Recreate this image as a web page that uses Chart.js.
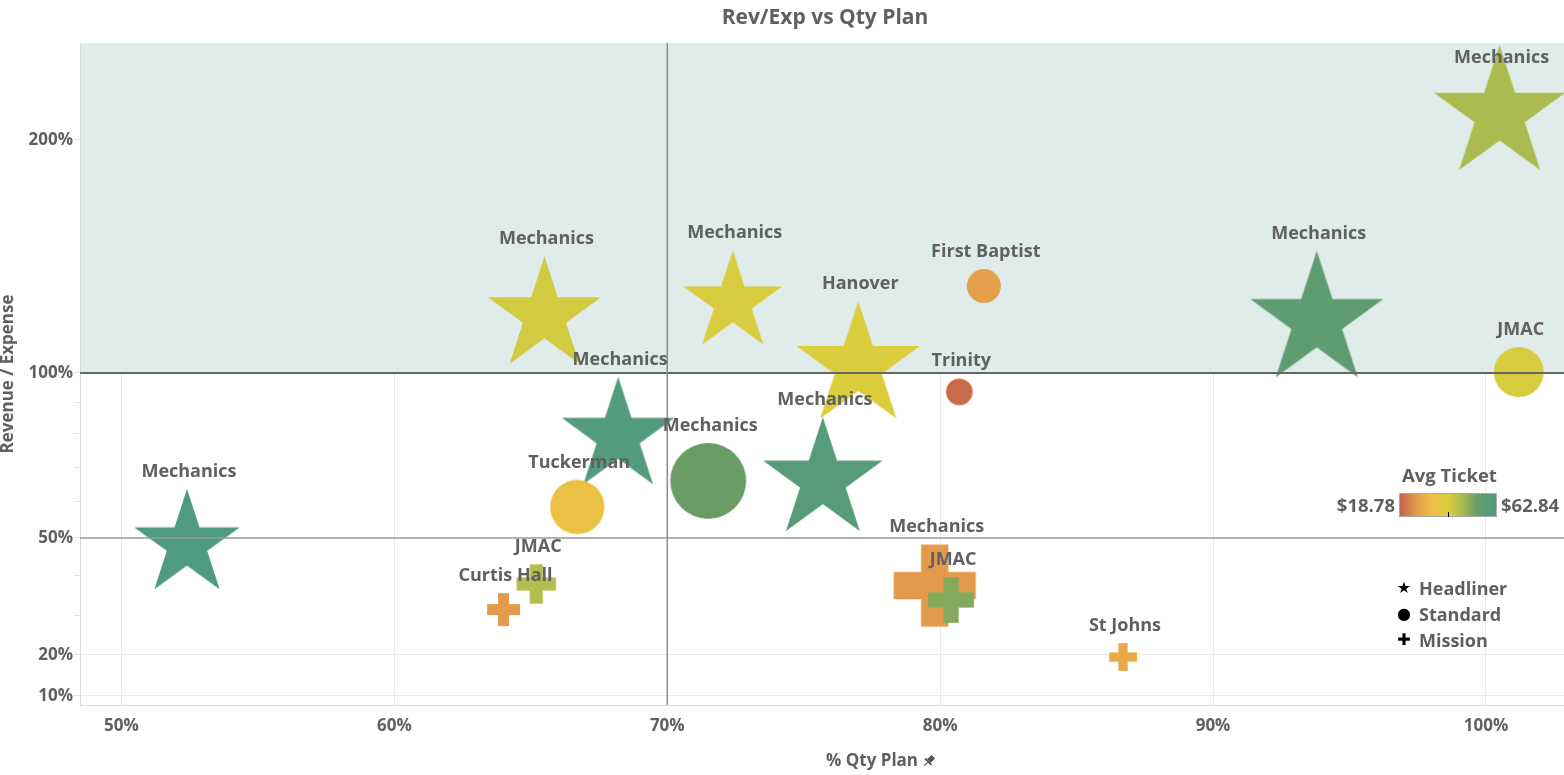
<!DOCTYPE html>
<html>
<head>
<meta charset="utf-8">
<script src="https://cdn.jsdelivr.net/npm/chart.js@4.4.0/dist/chart.umd.min.js"></script>
<style>
  body { margin: 0; background: #fff; font-family: 'Open Sans', sans-serif; }
  #wrap { position: relative; width: 1564px; height: 775px; }
  .lg { position: absolute; color: #5f5f5f; font-weight: 700; font-size: 18px; white-space: nowrap; line-height: 24px; }
  #tickBar { position: absolute; left: 1399px; top: 493px; width: 96px; height: 22px; border: 1px solid #aaa; }
  #tickBar i { position: absolute; left: 48px; bottom: -1px; width: 1px; height: 5px; background: #000; }
  .shape { position: absolute; left: 1396px; width: 16px; text-align: center; color: #000; font-family: 'DejaVu Sans'; line-height: 24px; }
</style>
</head>
<body>
<div id="wrap">
  <canvas id="chart" width="1564" height="775"></canvas>
  <div class="lg" style="left:1402px;top:463px;font-size:18.5px">Avg Ticket</div>
  <div class="lg" id="tickMin" style="right:169px;top:493px;font-size:18.5px"></div>
  <div id="tickBar"><i></i></div>
  <div class="lg" id="tickMax" style="left:1501px;top:493px;font-size:18.5px"></div>
  <div class="shape" style="top:576px;font-size:16px">★</div>
  <div class="lg" style="left:1419px;top:576px">Headliner</div>
  <div class="shape" style="top:602px;font-size:16px">●</div>
  <div class="lg" style="left:1419px;top:602px">Standard</div>
  <div class="shape" style="top:628px;font-size:16px">✚</div>
  <div class="lg" style="left:1419px;top:628px">Mission</div>
</div>
<script>
// venue / event data
const venues = ['Mechanics', 'Mechanics', 'Mechanics', 'Hanover', 'First Baptist', 'Trinity',
    'Mechanics', 'JMAC', 'Mechanics', 'Mechanics', 'Mechanics', 'Tuckerman', 'Mechanics',
    'JMAC', 'Curtis Hall', 'Mechanics', 'JMAC', 'St Johns'];
const eventType = ['Headliner', 'Headliner', 'Headliner', 'Headliner', 'Standard', 'Standard',
    'Headliner', 'Standard', 'Headliner', 'Standard', 'Headliner', 'Standard', 'Headliner',
    'Mission', 'Mission', 'Mission', 'Mission', 'Mission'];
const qtyPlan = [100.5, 65.5, 72.4, 77.0, 81.6, 80.7, 93.8, 101.2, 68.2, 71.5, 75.7, 66.7, 52.4,
    65.2, 64.0, 79.8, 80.4, 86.7];
const revExp = [213.9, 127.0, 132.4, 105.6, 137.3, 93.7, 125.3, 100.4, 81.1, 66.2, 68.2, 58.6, 49.7,
    38.0, 31.6, 37.6, 34.0, 19.5];
const avgTicket = [47.0, 42.1, 41.2, 40.8, 27.0, 19.7, 57.4, 41.3, 61.1, 54.0, 59.8, 35.1, 62.4,
    46.1, 26.5, 26.5, 51.2, 28.5];
const sizeValue = [88, 65, 50, 78, 18, 11, 90, 39, 65, 90, 73, 46, 57,
    20, 14, 87, 27, 10];
const ticketRange = [18.78, 62.84];

const xTicks = [50, 60, 70, 80, 90, 100];
const yTicks = [10, 20, 50, 100, 200];
const yMinorTicks = [30, 40, 60, 70, 80, 90];
const refRevExp = [100, 50];
const refQtyPlan = 70;

// the y axis in the source is stretched by hand, these are the spacings of its tick marks
const warpVals = [10, 20, 30, 40, 50, 60, 70, 80, 90, 100, 200];
const warpPos = [0, 41, 80, 120, 158, 194, 228, 262, 293, 323, 556];

function warp(v) {
    const n = warpVals.length;
    let i = 0;
    if (v <= warpVals[0]) i = 0;
    else if (v >= warpVals[n - 1]) i = n - 2;
    else while (v > warpVals[i + 1]) i++;
    const t = (v - warpVals[i]) / (warpVals[i + 1] - warpVals[i]);
    return warpPos[i] + t * (warpPos[i + 1] - warpPos[i]);
}
function unwarp(u) {
    const n = warpPos.length;
    let i = 0;
    if (u <= warpPos[0]) i = 0;
    else if (u >= warpPos[n - 1]) i = n - 2;
    else while (u > warpPos[i + 1]) i++;
    const t = (u - warpPos[i]) / (warpPos[i + 1] - warpPos[i]);
    return warpVals[i] + t * (warpVals[i + 1] - warpVals[i]);
}

class WarpScale extends Chart.LinearScale {
    static id = 'warp';
    static defaults = {};
    buildTicks() {
        return yTicks.concat(yMinorTicks).map(v => ({ value: v }));
    }
    getPixelForValue(v) {
        const a = warp(this.min), b = warp(this.max);
        return this.getPixelForDecimal((warp(v) - a) / (b - a));
    }
    getValueForPixel(p) {
        const a = warp(this.min), b = warp(this.max);
        return unwarp(a + this.getDecimalForPixel(p) * (b - a));
    }
}
Chart.register(WarpScale);

// Avg Ticket colour ramp
const rampStops = [[0, '#c4654b'], [0.22, '#eba84a'], [0.33, '#f0bd47'], [0.5, '#dccd3d'],
    [0.62, '#b3bf4c'], [0.8, '#6a9d65'], [1, '#4d9a84']];
function hexRgb(h) { return [1, 3, 5].map(i => parseInt(h.substr(i, 2), 16)); }
function ticketColor(v) {
    const t = Math.max(0, Math.min(1, (v - ticketRange[0]) / (ticketRange[1] - ticketRange[0])));
    let i = 0;
    while (i < rampStops.length - 2 && t > rampStops[i + 1][0]) i++;
    const [t0, c0] = rampStops[i], [t1, c1] = rampStops[i + 1];
    const f = (t - t0) / (t1 - t0);
    const a = hexRgb(c0), b = hexRgb(c1);
    return 'rgb(' + a.map((x, k) => Math.round(x + f * (b[k] - x))).join(',') + ')';
}

document.getElementById('tickMin').textContent = '$' + ticketRange[0].toFixed(2);
document.getElementById('tickMax').textContent = '$' + ticketRange[1].toFixed(2);
document.getElementById('tickBar').style.background =
    'linear-gradient(to right,' + rampStops.map(s => s[1] + ' ' + (s[0] * 100) + '%').join(',') + ')';

// mark shapes as little canvases
function makeMark(type, size, color) {
    const c = document.createElement('canvas');
    const ctx = c.getContext('2d');
    if (type === 'Headliner') {
        const w = 140 * Math.sqrt(size / 100);
        const R = w / 1.902;
        c.width = Math.ceil(w) + 2;
        c.height = Math.ceil(R * 1.809) + 2;
        const cx = c.width / 2, cy = c.height / 2 + 0.0955 * R;
        ctx.beginPath();
        for (let k = 0; k < 10; k++) {
            const r = k % 2 ? R * 0.382 : R;
            const a = -Math.PI / 2 + k * Math.PI / 5;
            ctx.lineTo(cx + r * Math.cos(a), cy + r * Math.sin(a));
        }
        ctx.closePath();
        ctx.fillStyle = color;
        ctx.fill();
    } else if (type === 'Standard') {
        const d = 80 * Math.sqrt(size / 100);
        c.width = c.height = Math.ceil(d) + 2;
        ctx.beginPath();
        ctx.arc(c.width / 2, c.height / 2, d / 2, 0, Math.PI * 2);
        ctx.fillStyle = color;
        ctx.fill();
    } else {
        const p = 88 * Math.sqrt(size / 100);
        c.width = c.height = Math.ceil(p) + 2;
        const o = (c.width - p) / 2, t = p / 3;
        ctx.fillStyle = color;
        ctx.fillRect(o + t, o, t, p);
        ctx.fillRect(o, o + t, p, t);
    }
    return c;
}

const points = qtyPlan.map((x, i) => ({ x: x, y: revExp[i] }));
const markColors = avgTicket.map(ticketColor);
const marks = eventType.map((t, i) => makeMark(t, sizeValue[i], markColors[i]));

const textColor = '#606060';
const tickFont = { family: "'Open Sans', sans-serif", weight: '700', size: 17 };

const decorPlugin = {
    id: 'decor',
    beforeDraw(chart) {
        const { ctx, chartArea: a, scales: { y } } = chart;
        ctx.save();
        ctx.fillStyle = '#dfece9';
        const y100 = y.getPixelForValue(refRevExp[0]);
        ctx.fillRect(a.left, a.top, a.right - a.left, y100 - a.top);
        ctx.restore();
    },
    afterDatasetsDraw(chart) {
        const { ctx, chartArea: a, scales: { x, y } } = chart;
        ctx.save();
        const lines = [[refRevExp[0], '#666', 2], [refRevExp[1], '#9c9c9c', 1.5]];
        lines.forEach(([v, col, w]) => {
            const py = y.getPixelForValue(v);
            ctx.strokeStyle = col; ctx.lineWidth = w;
            ctx.beginPath(); ctx.moveTo(a.left, py); ctx.lineTo(a.right, py); ctx.stroke();
        });
        const px = x.getPixelForValue(refQtyPlan);
        ctx.strokeStyle = '#8c8c8c'; ctx.lineWidth = 1.5;
        ctx.beginPath(); ctx.moveTo(px, a.top); ctx.lineTo(px, a.bottom); ctx.stroke();

        // mark labels
        ctx.font = "700 18px 'Open Sans', sans-serif";
        ctx.fillStyle = textColor;
        ctx.textAlign = 'center';
        ctx.textBaseline = 'middle';
        chart.getDatasetMeta(0).data.forEach((el, i) => {
            const top = el.y - marks[i].height / 2;
            const ly = Math.max(top - 16, a.top + 15);
            ctx.fillText(venues[i], el.x + 2, ly);
        });

        // title and x axis title with its pin
        const mid = (a.left + a.right) / 2;
        ctx.font = "700 21px 'Open Sans', sans-serif";
        ctx.fillText('Rev/Exp vs Qty Plan', mid + 3, 18);
        ctx.font = "700 17px 'Open Sans', sans-serif";
        ctx.textAlign = 'left';
        ctx.fillText('% Qty Plan', mid + 4, 761);
        const pinX = mid + 4 + ctx.measureText('% Qty Plan').width + 11;
        ctx.translate(pinX, 761);
        ctx.rotate(Math.PI / 4);
        ctx.fillStyle = '#555';
        ctx.fillRect(-2.5, -6, 5, 6);
        ctx.fillRect(-4.5, 0, 9, 2);
        ctx.fillRect(-0.6, 2, 1.2, 5);
        ctx.restore();
    }
};

new Chart(document.getElementById('chart'), {
    type: 'scatter',
    data: {
        datasets: [{
            data: points,
            pointStyle: marks,
            backgroundColor: markColors
        }]
    },
    options: {
        responsive: false,
        animation: false,
        events: [],
        layout: { autoPadding: false, padding: { top: 43, right: 0, left: 0, bottom: 0 } },
        plugins: { legend: { display: false }, tooltip: { enabled: false } },
        scales: {
            x: {
                type: 'linear',
                min: 48.48,
                max: 102.86,
                afterBuildTicks: s => { s.ticks = xTicks.map(v => ({ value: v })); },
                afterFit: s => { s.height = 70; s.paddingRight = 0; s.paddingLeft = 0; },
                ticks: { callback: v => v + '%', color: textColor, font: tickFont, padding: 11, maxRotation: 0 },
                grid: { color: '#ebebeb', drawTicks: false },
                border: { color: '#dcdcdc' }
            },
            y: {
                type: 'warp',
                min: 7.8,
                max: 241.6,
                afterFit: s => { s.width = 80; s.paddingTop = 0; s.paddingBottom = 0; },
                ticks: {
                    autoSkip: false,
                    callback: v => yTicks.includes(v) ? v + '%' : '',
                    color: textColor, font: tickFont, padding: 1
                },
                grid: {
                    color: c => (c.tick && yTicks.includes(c.tick.value)) ? '#ebebeb' : 'rgba(0,0,0,0)',
                    tickColor: '#e4e4e4',
                    tickLength: 6
                },
                border: { color: '#dcdcdc' },
                title: {
                    display: true, text: 'Revenue / Expense', color: textColor,
                    font: { family: "'Open Sans', sans-serif", weight: '700', size: 17 },
                    padding: { top: -2, bottom: 0 }
                }
            }
        }
    },
    plugins: [decorPlugin]
});
</script>
</body>
</html>
